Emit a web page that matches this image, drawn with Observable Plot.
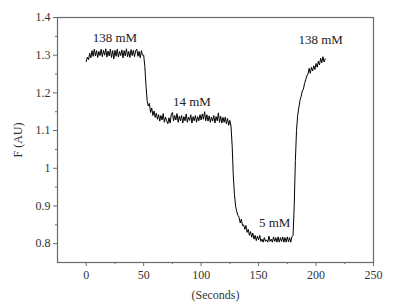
<!DOCTYPE html>
<html><head><meta charset="utf-8">
<script src="https://cdn.jsdelivr.net/npm/d3@7"></script>
<script src="https://cdn.jsdelivr.net/npm/@observablehq/plot@0.6"></script>
<style>body{margin:0;background:#fff}</style>
</head><body><div id="chart"></div>
<script>
const seconds = d3.range(0, 209);
const fluorescence = [
1.283,1.295,1.288,1.305,1.293,1.312,1.297,1.316,1.298,1.312,1.294,1.31,1.299,1.316,1.296,1.313,1.3,1.317,1.295,1.311,
1.298,1.316,1.294,1.312,1.29,1.313,1.297,1.316,1.295,1.31,1.299,1.314,1.293,1.312,1.298,1.317,1.296,1.31,1.294,1.315,
1.299,1.313,1.296,1.312,1.316,1.297,1.31,1.293,1.312,1.3,1.30,
1.27,1.22,1.18,1.165,1.172,1.148,1.16,1.14,1.152,1.135,
1.146,1.13,1.142,1.125,1.14,1.128,1.145,1.122,1.136,1.126,1.118,1.134,1.12,1.142,1.148,1.126,1.14,1.128,1.145,1.122,
1.138,1.126,1.14,1.12,1.137,1.126,1.144,1.122,1.136,1.127,1.142,1.12,1.137,1.126,1.14,1.122,1.137,1.126,1.142,1.128,
1.144,1.13,1.15,1.126,1.142,1.125,1.139,1.122,1.136,1.125,1.14,1.12,1.137,1.126,1.147,1.122,1.138,1.12,1.135,1.122,
1.136,1.118,1.132,1.114,1.127,1.112,
1.06,0.98,0.93,0.90,0.885,0.875,0.87,0.855,0.865,0.848,0.85,0.838,0.848,0.83,0.838,0.822,0.832,0.817,0.828,0.812,
0.822,0.808,0.82,0.81,0.822,0.806,0.812,0.804,0.816,0.806,0.81,0.804,0.82,0.806,0.812,0.804,0.818,0.806,0.816,0.804,
0.818,0.804,0.816,0.806,0.818,0.804,0.816,0.804,0.818,0.805,0.816,0.804,0.818,0.822,
0.90,1.02,1.10,1.14,1.16,1.18,1.19,1.205,1.21,1.225,1.235,1.245,1.25,1.265,1.252,1.268,1.258,1.272,1.262,1.278,
1.268,1.284,1.274,1.292,1.28,1.296,1.282,1.29
];
const labelText = ["138 mM", "14 mM", "5 mM", "138 mM"];
const labelX = [25, 92, 164, 204];
const labelY = [1.345, 1.176, 0.856, 1.341];
const xTicks = [0, 50, 100, 150, 200, 250];
const xMinor = [25, 75, 125, 175, 225];
const yTicks = [0.8, 0.9, 1, 1.1, 1.2, 1.3, 1.4];
const yMinor = [0.85, 0.95, 1.05, 1.15, 1.25, 1.35];

const trace = seconds.map((t, i) => ({t, f: fluorescence[i]})).filter(d => d.f != null);
const labels = labelText.map((s, i) => ({s, x: labelX[i], y: labelY[i]}));
const axisColor = "#6a6a6a";

const plot = Plot.plot({
  width: 400, height: 305,
  marginLeft: 57, marginRight: 27, marginTop: 17, marginBottom: 43,
  style: {fontFamily: "'Liberation Serif', 'DejaVu Serif', serif", fontSize: "12px", color: "#333"},
  x: {domain: [-25, 250]},
  y: {domain: [0.75, 1.4]},
  marks: [
    Plot.frame({stroke: axisColor, strokeWidth: 1.2}),
    Plot.axisX({ticks: xTicks, tickSize: 4, tickPadding: 4, stroke: axisColor, label: "(Seconds)", labelAnchor: "center", labelArrow: "none", labelOffset: 36, tickFormat: d => String(d)}),
    Plot.axisX({ticks: xMinor, tickSize: 2, stroke: axisColor, tickFormat: () => "", label: null}),
    Plot.axisY({ticks: yTicks, tickSize: 4, tickPadding: 3, stroke: axisColor, label: "F (AU)", labelAnchor: "center", labelArrow: "none", labelOffset: 44, tickFormat: d => String(+d.toFixed(1))}),
    Plot.axisY({ticks: yMinor, tickSize: 2, stroke: axisColor, tickFormat: () => "", label: null}),
    Plot.line(trace, {x: "t", y: "f", stroke: "#000", strokeWidth: 1, curve: "linear"}),
    Plot.text(labels, {x: "x", y: "y", text: "s", fill: "#222", fontSize: 13})
  ]
});
document.getElementById("chart").append(plot);
</script>
</body></html>
